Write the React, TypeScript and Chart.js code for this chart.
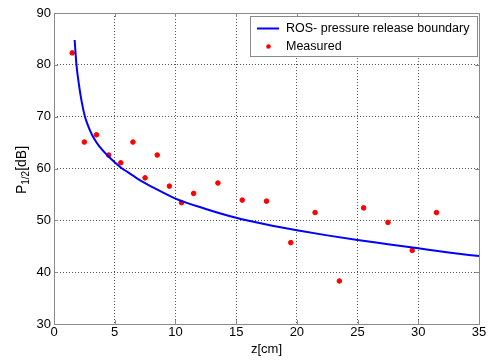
import React, { useEffect, useRef } from 'react';
import { Chart, registerables } from 'chart.js';
Chart.register(...registerables);

const curveZ = [1.7, 1.85, 2.06, 2.28, 2.55, 2.85, 3.11, 3.4, 3.75, 4.45, 5.0, 5.5, 6.07, 7.1, 8.2, 10, 12.5, 15, 17.5, 20, 22.5, 25, 27.5, 30, 32.5, 35];
const curveP = [84.8, 80.0, 76.1, 72.9, 70.0, 68.0, 66.6, 65.4, 64.2, 62.4, 61.2, 60.2, 59.3, 57.7, 56.3, 54.2, 52.2, 50.5, 49.2, 48.1, 47.1, 46.2, 45.4, 44.6, 43.8, 43.1];
const measuredZ = [1.5, 2.5, 3.5, 4.5, 5.5, 6.5, 7.5, 8.5, 9.5, 10.5, 11.5, 13.5, 15.5, 17.5, 19.5, 21.5, 23.5, 25.5, 27.5, 29.5, 31.5];
const measuredP = [82.3, 65.1, 66.5, 62.6, 61.1, 65.1, 58.2, 62.6, 56.6, 53.4, 55.2, 57.2, 53.9, 53.7, 45.7, 51.5, 38.3, 52.4, 49.6, 44.2, 51.5];
const curveLabel = 'ROS- pressure release boundary';
const measuredLabel = 'Measured';
const xTitle = 'z[cm]';
const yTitleMain = 'P';
const yTitleSub = '1/2';
const yTitleUnit = '[dB]';

const FONT = '"Liberation Sans", Arial, sans-serif';

const decor = {
  id: 'decor',
  afterDraw(chart: any) {
    const { ctx, chartArea: a } = chart;
    ctx.save();
    // box
    ctx.strokeStyle = '#8a8a8a';
    ctx.lineWidth = 1;
    ctx.setLineDash([]);
    ctx.strokeRect(Math.round(a.left) + 0.5, Math.round(a.top) + 0.5, Math.round(a.right - a.left), Math.round(a.bottom - a.top));
    // inner ticks
    const xs = chart.scales.x, ys = chart.scales.y;
    ctx.beginPath();
    for (const t of xs.ticks) {
      const px = Math.round(xs.getPixelForValue(t.value)) + 0.5;
      ctx.moveTo(px, a.bottom); ctx.lineTo(px, a.bottom - 4);
      ctx.moveTo(px, a.top); ctx.lineTo(px, a.top + 4);
    }
    for (const t of ys.ticks) {
      const py = Math.round(ys.getPixelForValue(t.value)) + 0.5;
      ctx.moveTo(a.left, py); ctx.lineTo(a.left + 4, py);
      ctx.moveTo(a.right, py); ctx.lineTo(a.right - 4, py);
    }
    ctx.stroke();

    // legend
    const lx = 250.5, ly = 16.5, lw = 227, lh = 40;
    ctx.fillStyle = '#ffffff';
    ctx.fillRect(lx, ly, lw, lh);
    ctx.strokeStyle = '#8a8a8a';
    ctx.strokeRect(lx, ly, lw, lh);
    ctx.strokeStyle = '#0000ff';
    ctx.lineWidth = 2;
    ctx.beginPath();
    ctx.moveTo(257, 28.5); ctx.lineTo(279, 28.5);
    ctx.stroke();
    ctx.fillStyle = '#ff0000';
    ctx.beginPath();
    ctx.arc(268.5, 46.5, 2.3, 0, Math.PI * 2);
    ctx.fill();
    ctx.fillStyle = '#000000';
    ctx.font = `12.5px ${FONT}`;
    ctx.textBaseline = 'middle';
    ctx.textAlign = 'left';
    ctx.fillText(curveLabel, 286, 28.5);
    ctx.fillText(measuredLabel, 286, 46.5);

    // x title
    ctx.font = `13px ${FONT}`;
    ctx.textAlign = 'center';
    ctx.fillText(xTitle, (a.left + a.right) / 2, 349);

    // y title with subscript
    ctx.save();
    ctx.translate(22, 170);
    ctx.rotate(-Math.PI / 2);
    ctx.textAlign = 'left';
    ctx.textBaseline = 'middle';
    ctx.font = `14px ${FONT}`;
    const wP = ctx.measureText(yTitleMain).width;
    const wU = ctx.measureText(yTitleUnit).width;
    ctx.font = `10px ${FONT}`;
    const wS = ctx.measureText(yTitleSub).width;
    const total = wP + wS + wU;
    let x0 = -total / 2;
    ctx.font = `14px ${FONT}`;
    ctx.fillText(yTitleMain, x0, 0);
    x0 += wP;
    ctx.font = `10px ${FONT}`;
    ctx.fillText(yTitleSub, x0, 4);
    x0 += wS;
    ctx.font = `14px ${FONT}`;
    ctx.fillText(yTitleUnit, x0, 0);
    ctx.restore();

    ctx.restore();
  },
};

export default function App() {
  const ref = useRef<HTMLCanvasElement>(null);
  useEffect(() => {
    if (!ref.current) return;
    const chart = new Chart(ref.current, {
      type: 'scatter',
      data: {
        datasets: [
          {
            label: curveLabel,
            data: curveZ.map((z, i) => ({ x: z, y: curveP[i] })),
            showLine: true,
            borderColor: '#0000ff',
            backgroundColor: '#0000ff',
            borderWidth: 2,
            pointRadius: 0,
            cubicInterpolationMode: 'monotone',
          } as any,
          {
            label: measuredLabel,
            data: measuredZ.map((z, i) => ({ x: z, y: measuredP[i] })),
            showLine: false,
            backgroundColor: '#ff0000',
            borderColor: '#ff0000',
            pointRadius: 2.3,
            pointStyle: 'circle',
          },
        ],
      },
      options: {
        animation: false,
        responsive: false,
        layout: { padding: { top: 13, right: 14, left: 0, bottom: 0 } },
        plugins: { legend: { display: false }, tooltip: { enabled: false } },
        scales: {
          x: {
            type: 'linear',
            min: 0,
            max: 35,
            afterFit: (s: any) => { s.height = 40; },
            ticks: { stepSize: 5, color: '#000', font: { family: FONT, size: 13 }, padding: 1, maxRotation: 0 },
            grid: { color: '#555', drawTicks: false, lineWidth: 1 },
            border: { display: false, dash: [1, 2] },
          },
          y: {
            type: 'linear',
            min: 30,
            max: 90,
            afterFit: (s: any) => { s.width = 54; },
            ticks: { stepSize: 10, color: '#000', font: { family: FONT, size: 13 }, padding: 3 },
            grid: { color: '#555', drawTicks: false, lineWidth: 1 },
            border: { display: false, dash: [1, 2] },
          },
        },
      },
      plugins: [decor],
    });
    return () => chart.destroy();
  }, []);
  return (
    <div style={{ position: 'absolute', left: 0, top: 0, width: 493, height: 364, background: '#fff' }}>
      <canvas ref={ref} width={493} height={364} style={{ width: 493, height: 364, display: 'block' }} />
    </div>
  );
}
